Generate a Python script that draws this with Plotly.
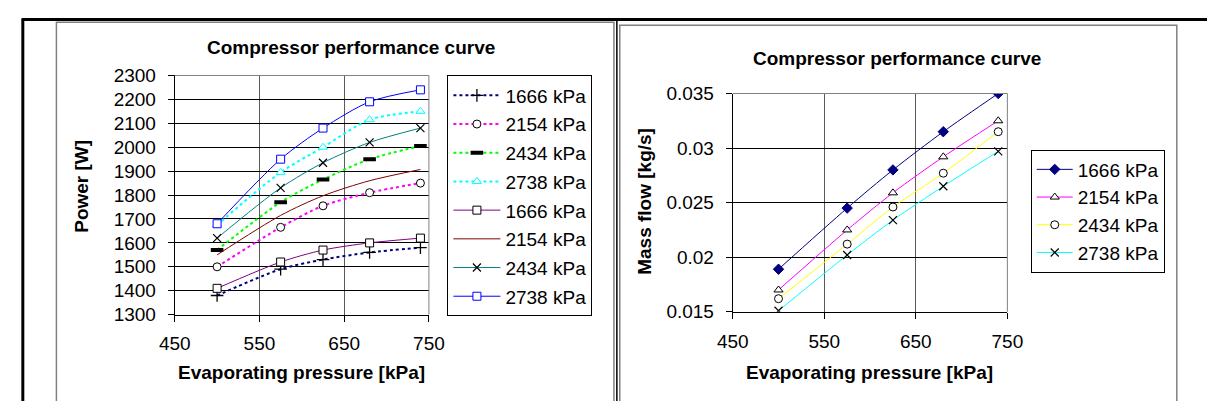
import plotly.graph_objects as go

# ---------------- data ----------------
pressure = [500, 575, 625, 680, 740]

series_names = ["1666 kPa", "2154 kPa", "2434 kPa", "2738 kPa"]

# left chart: power [W]
power_dot_1666 = [1380, 1490, 1530, 1560, 1580]
power_dot_2154 = [1500, 1665, 1755, 1810, 1850]
power_dot_2434 = [1570, 1770, 1865, 1950, 2005]
power_dot_2738 = [1675, 1895, 2000, 2115, 2150]
power_sol_1666 = [1410, 1520, 1570, 1600, 1620]
power_sol_2154 = [1550, 1715, 1797, 1860, 1907]
power_sol_2434 = [1620, 1830, 1935, 2020, 2080]
power_sol_2738 = [1680, 1950, 2080, 2190, 2240]

# right chart: mass flow [kg/s]
flow_1666 = [0.0189, 0.0245, 0.0280, 0.0315, 0.0350]
flow_2154 = [0.0170, 0.0225, 0.0259, 0.0292, 0.0325]
flow_2434 = [0.0162, 0.0212, 0.0246, 0.0277, 0.0315]
flow_2738 = [0.0151, 0.0202, 0.0234, 0.0265, 0.0297]

x_ticks = [450, 550, 650, 750]
x_tick_labels = ["450", "550", "650", "750"]
power_ticks = [1300, 1400, 1500, 1600, 1700, 1800, 1900, 2000, 2100, 2200, 2300]
power_tick_labels = [str(v) for v in power_ticks]
flow_ticks = [0.015, 0.02, 0.025, 0.03, 0.035]
flow_tick_labels = ["0.015", "0.02", "0.025", "0.03", "0.035"]

title_text = "Compressor performance curve"
x_title = "Evaporating pressure [kPa]"
left_y_title = "Power [W]"
right_y_title = "Mass flow [kg/s]"

# ---------------- layout helpers ----------------
W, H = 1223, 412
FONT = "Liberation Sans, Arial, sans-serif"
FS = 19


def px(x):
    return x / W


def py(y):
    return 1 - y / H


fig = go.Figure()

# ---------- left chart traces ----------
left_specs = [
    (power_dot_1666, series_names[0], "#000080", "dot", 2, dict(symbol="cross-thin", size=9, color="black", line=dict(color="black", width=1.3))),
    (power_dot_2154, series_names[1], "#FF00FF", "dot", 2, dict(symbol="circle", size=8, color="white", line=dict(color="black", width=1))),
    (power_dot_2434, series_names[2], "#00FF00", "dot", 2, dict(symbol="line-ew", size=9, color="black", line=dict(color="black", width=4))),
    (power_dot_2738, series_names[3], "#00FFFF", "dot", 2, dict(symbol="triangle-up", size=8, color="white", line=dict(color="#00FFFF", width=1))),
    (power_sol_1666, series_names[0], "#800080", "solid", 1, dict(symbol="square", size=8, color="white", line=dict(color="black", width=1))),
    (power_sol_2154, series_names[1], "#800000", "solid", 1, None),
    (power_sol_2434, series_names[2], "#008080", "solid", 1, dict(symbol="x-thin", size=8, color="black", line=dict(color="black", width=1.2))),
    (power_sol_2738, series_names[3], "#0000FF", "solid", 1, dict(symbol="square", size=8, color="white", line=dict(color="#0000FF", width=1))),
]
for i, (vals, name, col, dash, lw, mk) in enumerate(left_specs):
    fig.add_trace(go.Scatter(
        x=pressure, y=vals, name=name,
        mode="lines+markers" if mk else "lines",
        line=dict(color=col, width=lw, dash=dash, shape="spline", smoothing=0.8),
        marker=mk if mk else None,
        xaxis="x", yaxis="y", legend="legend",
        legendgroup="L%d" % i,
    ))

# ---------- right chart traces ----------
right_specs = [
    (flow_1666, series_names[0], "#000080", dict(symbol="diamond", size=8, color="#000080", line=dict(color="#000080", width=1))),
    (flow_2154, series_names[1], "#FF00FF", dict(symbol="triangle-up", size=8, color="white", line=dict(color="black", width=1))),
    (flow_2434, series_names[2], "#FFFF00", dict(symbol="circle", size=8, color="white", line=dict(color="black", width=1))),
    (flow_2738, series_names[3], "#00FFFF", dict(symbol="x-thin", size=8, color="black", line=dict(color="black", width=1.2))),
]
for i, (vals, name, col, mk) in enumerate(right_specs):
    fig.add_trace(go.Scatter(
        x=pressure, y=vals, name=name, mode="lines+markers",
        line=dict(color=col, width=1, shape="spline", smoothing=0.8),
        marker=mk, xaxis="x2", yaxis="y2", legend="legend2",
        legendgroup="R%d" % i,
    ))

axis_common = dict(
    showline=True, linecolor="black", linewidth=1,
    ticks="outside", ticklen=6, tickcolor="black", tickwidth=1,
    tickfont=dict(family=FONT, size=FS, color="black"),
    zeroline=False, fixedrange=True,
)

fig.update_layout(
    width=W, height=H,
    margin=dict(l=0, r=0, t=0, b=0),
    paper_bgcolor="white", plot_bgcolor="white",
    font=dict(family=FONT, size=FS, color="black"),
    showlegend=True,
    xaxis=dict(domain=[px(163), px(424)], range=[450, 750], anchor="y",
               tickvals=x_ticks, ticktext=x_tick_labels,
               showgrid=True, gridcolor="#5a5a5a", gridwidth=1,
               ticklabelstandoff=6, **axis_common),
    yaxis=dict(domain=[py(321), py(69)], range=[1300, 2300], anchor="x",
               tickvals=power_ticks, ticktext=power_tick_labels,
               showgrid=True, gridcolor="black", gridwidth=1,
               ticklabelstandoff=8, **axis_common),
    xaxis2=dict(domain=[px(736), px(1018)], range=[450, 750], anchor="y2",
                tickvals=x_ticks, ticktext=x_tick_labels,
                showgrid=True, gridcolor="#5a5a5a", gridwidth=1,
                ticklabelstandoff=6, **axis_common),
    yaxis2=dict(domain=[py(318), py(88)], range=[0.015, 0.035], anchor="x2",
                tickvals=flow_ticks, ticktext=flow_tick_labels,
                showgrid=True, gridcolor="black", gridwidth=1,
                ticklabelstandoff=8, **axis_common),
    legend=dict(x=px(443), y=py(69), xanchor="left", yanchor="top",
                bgcolor="white", bordercolor="black", borderwidth=1,
                font=dict(family=FONT, size=FS, color="black"),
                tracegroupgap=1, traceorder="grouped", itemwidth=47),
    legend2=dict(x=px(1042), y=py(147), xanchor="left", yanchor="top",
                 bgcolor="white", bordercolor="black", borderwidth=1,
                 font=dict(family=FONT, size=FS, color="black"),
                 tracegroupgap=0, traceorder="grouped", itemwidth=36),
)

shapes = []
# outer black frame
shapes.append(dict(type="line", xref="paper", yref="paper", x0=px(6), x1=1, y0=py(10), y1=py(10),
                   line=dict(color="black", width=3)))
shapes.append(dict(type="line", xref="paper", yref="paper", x0=px(7), x1=px(7), y0=py(9), y1=0,
                   line=dict(color="black", width=3)))
shapes.append(dict(type="line", xref="paper", yref="paper", x0=px(617), x1=px(617), y0=py(9), y1=0,
                   line=dict(color="black", width=1.5)))
# grey panel borders
shapes.append(dict(type="path", xref="paper", yref="paper",
                   path="M %f,0 L %f,%f L %f,%f L %f,0" % (px(41.5), px(41.5), py(13), px(614), py(13), px(614)),
                   line=dict(color="#808080", width=1.5)))
shapes.append(dict(type="path", xref="paper", yref="paper",
                   path="M %f,0 L %f,%f L %f,%f L %f,0" % (px(620), px(620), py(16), px(1192), py(16), px(1192)),
                   line=dict(color="#808080", width=1.5)))
# plot-area top/right borders
for xa, ya in (("x", "y"), ("x2", "y2")):
    shapes.append(dict(type="line", xref=xa + " domain", yref=ya + " domain", x0=0, x1=1, y0=1, y1=1,
                       line=dict(color="#808080", width=1)))
    shapes.append(dict(type="line", xref=xa + " domain", yref=ya + " domain", x0=1, x1=1, y0=0, y1=1,
                       line=dict(color="#808080", width=1)))
fig.update_layout(shapes=shapes)

ann = []
def add_text(text, x, y, angle=0):
    ann.append(dict(text="<b>%s</b>" % text, xref="paper", yref="paper", x=px(x), y=py(y),
                    xanchor="center", yanchor="middle", showarrow=False, textangle=angle,
                    font=dict(family=FONT, size=FS, color="black")))

add_text(title_text, 344, 39)
add_text(x_title, 293, 382)
add_text(left_y_title, 67, 186, -90)
add_text(title_text, 905, 51)
add_text(x_title, 876, 382)
add_text(right_y_title, 646, 202, -90)
fig.update_layout(annotations=ann)

fig.write_html("out.html", post_script="document.body.style.margin='0';document.body.style.overflow='hidden';")
